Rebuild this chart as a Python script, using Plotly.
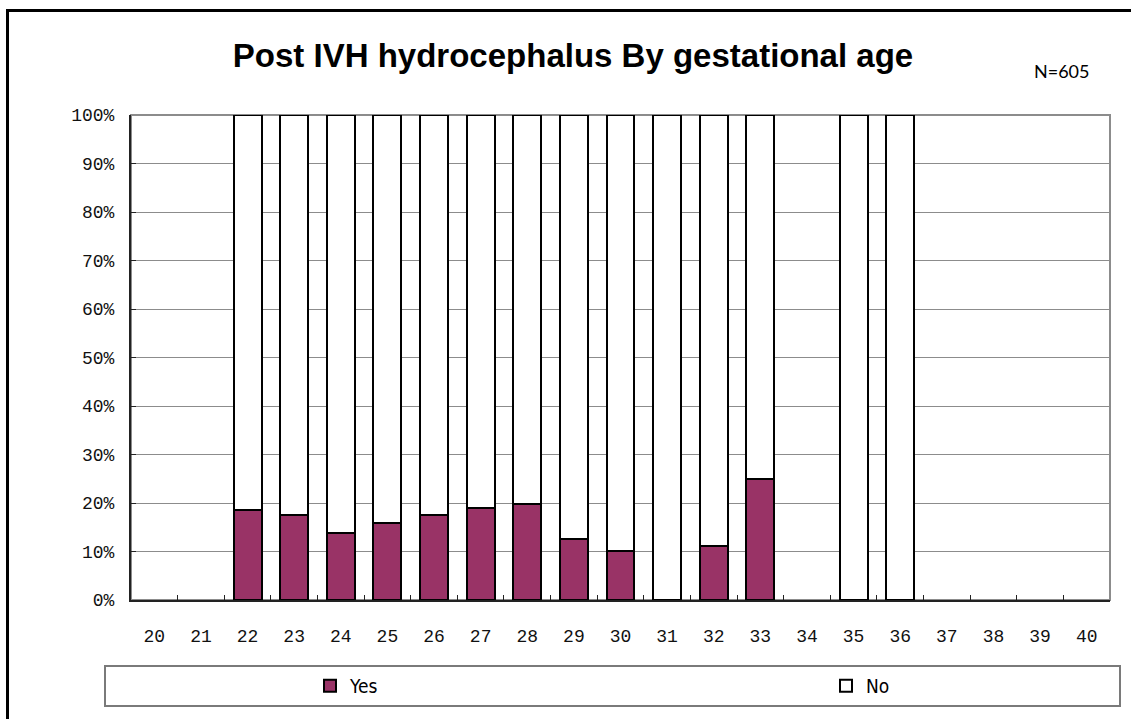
import plotly.graph_objects as go

# Gestational age in weeks (20..40)
weeks = [str(w) for w in range(20, 41)]

# Share of infants with post-IVH hydrocephalus (%); None where no cases
yes_pct = [None, None, 18.6, 17.5, 13.9, 15.9, 17.5, 18.9, 19.7, 12.6, 10.1,
           0.0, 11.2, 25.0, None, 0.0, 0.0, None, None, None, None]
no_pct = [None if v is None else 100.0 - v for v in yes_pct]

y_ticks = list(range(0, 101, 10))
y_tick_text = [f"{t}%" for t in y_ticks]

title_text = "Post IVH hydrocephalus By gestational age"
n_text = "N=605"

plum = "#993366"
mono = "Liberation Mono, Courier New, monospace"
legend_font = dict(family="Liberation Sans Narrow, DejaVu Sans Condensed, Liberation Sans, sans-serif",
                   size=19, color="black")

W, H = 1131, 719
L, R, T, B = 131, 21, 115, 119
pw, ph = W - L - R, H - T - B


def px_x(p):
    return (p - L) / pw


def px_y(p):
    return (H - B - p) / ph


fig = go.Figure()
fig.add_trace(go.Bar(
    x=weeks, y=yes_pct, name="Yes", legend="legend",
    marker=dict(color=plum, line=dict(color="black", width=2)),
))
fig.add_trace(go.Bar(
    x=weeks, y=no_pct, name="No", legend="legend2",
    marker=dict(color="white", line=dict(color="black", width=2)),
))

shapes = [
    # plot area frame
    dict(type="rect", xref="paper", yref="paper", x0=0, x1=1, y0=0, y1=1,
         line=dict(color="#8c8c8c", width=2), layer="below"),
    # legend frame
    dict(type="rect", xref="paper", yref="paper",
         x0=px_x(105), x1=px_x(1120), y0=px_y(706), y1=px_y(666),
         line=dict(color="#7a7a7a", width=2)),
    # outer chart border
    dict(type="rect", xref="paper", yref="paper",
         x0=px_x(7.5), x1=1.5, y0=-1.0, y1=px_y(10.5),
         line=dict(color="black", width=3)),
]

legend_common = dict(orientation="h", xanchor="left", yanchor="middle",
                     y=px_y(686), bgcolor="rgba(0,0,0,0)", borderwidth=0,
                     font=legend_font, itemwidth=30)

fig.update_layout(
    width=W, height=H,
    margin=dict(l=L, r=R, t=T, b=B, autoexpand=False),
    paper_bgcolor="white", plot_bgcolor="white",
    barmode="stack", bargap=0.4,
    shapes=shapes,
    title=dict(text=f"<b>{title_text}</b>", xref="container", yref="container",
               x=573 / W, xanchor="center", y=1 - 55 / H, yanchor="middle",
               font=dict(family="Liberation Sans, Arial, sans-serif", size=33, color="black")),
    annotations=[dict(text=n_text, xref="paper", yref="paper",
                      x=px_x(1062), y=px_y(71), xanchor="center", yanchor="middle",
                      showarrow=False,
                      font=dict(family="Lato, sans-serif", size=18, color="black"))],
    legend=dict(x=px_x(310), **legend_common),
    legend2=dict(x=px_x(826), **legend_common),
    showlegend=True,
)

fig.update_xaxes(
    type="category", categoryorder="array", categoryarray=weeks,
    showgrid=False, showline=True, linecolor="#222", linewidth=2,
    ticks="inside", tickson="boundaries", ticklen=5, tickcolor="#222",
    tickfont=dict(family=mono, size=18, color="#111"),
    ticklabelstandoff=18, fixedrange=True,
)
fig.update_yaxes(
    range=[0, 100], tickvals=y_ticks, ticktext=y_tick_text,
    showgrid=True, gridcolor="#8c8c8c", gridwidth=1,
    showline=True, linecolor="#222", linewidth=2,
    ticks="inside", ticklen=5, tickcolor="#222",
    tickfont=dict(family=mono, size=18, color="#111"),
    ticklabelstandoff=11, zeroline=False, fixedrange=True,
)

fig.write_html("out.html")
